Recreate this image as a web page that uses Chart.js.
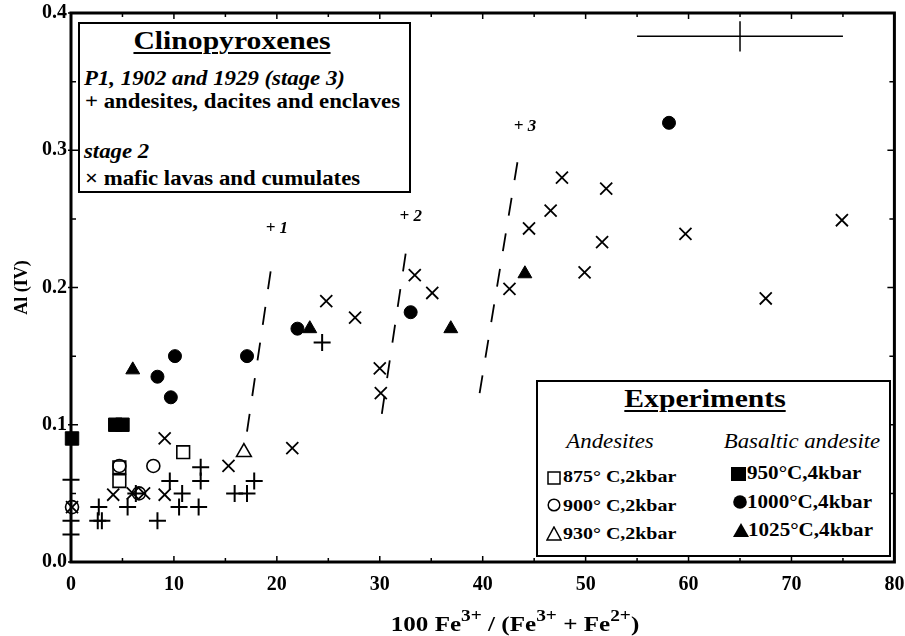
<!DOCTYPE html>
<html>
<head>
<meta charset="utf-8">
<script src="https://cdn.jsdelivr.net/npm/chart.js@4.4.1/dist/chart.umd.min.js"></script>
<style>
  body { margin: 0; background: #fff; }
  #wrap { position: relative; width: 905px; height: 636px; }
  .box { position: absolute; border: 2px solid #000; box-sizing: border-box; background: #fff; }
  .t { position: absolute; font-family: "Liberation Serif", serif; line-height: 1; white-space: nowrap; color: #000;
       transform: scaleX(1.14); transform-origin: left center; }
  .c { transform: translateX(-50%) scaleX(1.14); transform-origin: center center; }
  .b { font-weight: bold; }
  .i { font-style: italic; }
  .u { text-decoration: underline; text-decoration-thickness: 2px; text-underline-offset: 3px; }
  .sp { position: relative; top: -10px; font-size: 17px; }
  .m { position: absolute; }
</style>
</head>
<body>
<div id="wrap">
  <canvas id="chart" width="905" height="636"></canvas>

  <div class="box" style="left:78px; top:22px; width:333px; height:171px;"></div>
  <div class="t c b u" style="left:232px; top:28px; font-size:26px;">Clinopyroxenes</div>
  <div class="t b i" style="left:84px; top:68px; font-size:20px;">P1, 1902 and 1929 (stage 3)</div>
  <div class="t b" style="left:85px; top:91px; font-size:20px;">+ andesites, dacites and enclaves</div>
  <div class="t b i" style="left:84px; top:141px; font-size:20px;">stage 2</div>
  <div class="t b" style="left:85px; top:168px; font-size:20px;">× mafic lavas and cumulates</div>

  <div class="box" style="left:536px; top:380px; width:355px; height:177px;"></div>
  <div class="t c b u" style="left:705px; top:386px; font-size:26px;">Experiments</div>
  <div class="t c i" style="left:610px; top:431px; font-size:20px;">Andesites</div>
  <div class="t c i" style="left:802px; top:431px; font-size:20px;">Basaltic andesite</div>

  <svg class="m" style="left:547px; top:471px;" width="14" height="14"><rect x="1" y="1" width="12" height="12" fill="none" stroke="#000" stroke-width="1.5"/></svg>
  <svg class="m" style="left:547px; top:498px;" width="14" height="14"><circle cx="7" cy="7" r="5.8" fill="none" stroke="#000" stroke-width="1.5"/></svg>
  <svg class="m" style="left:546px; top:526px;" width="16" height="15"><polygon points="8,1 15,14 1,14" fill="none" stroke="#000" stroke-width="1.5"/></svg>
  <div class="t b" style="left:563px; top:468px; font-size:17.5px;">875° C,2kbar</div>
  <div class="t b" style="left:563px; top:497px; font-size:17.5px;">900° C,2kbar</div>
  <div class="t b" style="left:563px; top:525px; font-size:17.5px;">930° C,2kbar</div>

  <svg class="m" style="left:731px; top:467px;" width="15" height="14"><rect x="0" y="0" width="15" height="14" fill="#000"/></svg>
  <svg class="m" style="left:733px; top:495px;" width="14" height="14"><circle cx="7" cy="7" r="6.8" fill="#000"/></svg>
  <svg class="m" style="left:733px; top:523px;" width="16" height="14"><polygon points="8,0 16,14 0,14" fill="#000"/></svg>
  <div class="t b" style="left:747px; top:464px; font-size:18.5px;">950°C,4kbar</div>
  <div class="t b" style="left:747px; top:493px; font-size:18.5px;">1000°C,4kbar</div>
  <div class="t b" style="left:748px; top:521px; font-size:18.5px;">1025°C,4kbar</div>

  <div class="t c b" style="left:515px; top:613px; font-size:22px;">100 Fe<span class="sp">3+</span> / (Fe<span class="sp">3+</span> + Fe<span class="sp">2+</span>)</div>
</div>

<script>
// clinopyroxenes, stage 3 (plus)
var andesitesDacitesEnclaves = [
  [0, 0.06], [0, 0.03], [0, 0.02], [2.7, 0.04], [2.6, 0.03], [3.0, 0.03],
  [5.5, 0.04], [6.3, 0.05], [8.4, 0.03], [9.6, 0.059], [10.5, 0.04], [10.8, 0.05],
  [12.4, 0.04], [12.6, 0.069], [12.6, 0.059], [15.9, 0.05], [17.1, 0.05], [17.8, 0.059],
  [24.4, 0.16]
];
// stage 2 (cross)
var maficLavasCumulates = [
  [0.1, 0.04], [4.1, 0.049], [6.0, 0.05], [7.1, 0.05], [9.1, 0.049], [9.1, 0.09],
  [15.3, 0.07], [21.5, 0.083], [24.8, 0.19], [27.6, 0.178], [30.0, 0.141], [30.1, 0.123],
  [33.4, 0.209], [35.1, 0.196], [42.6, 0.199], [44.5, 0.243], [46.6, 0.256], [47.7, 0.28],
  [49.9, 0.211], [51.6, 0.233], [52.0, 0.272], [59.7, 0.239], [67.5, 0.192], [74.9, 0.249]
];
// experiments, andesites
var exp875 = [[4.7, 0.069], [4.7, 0.059], [10.9, 0.08]];
var exp900 = [[0.1, 0.04], [4.7, 0.07], [8.0, 0.07], [6.6, 0.05]];
var exp930 = [[16.8, 0.08]];
// experiments, basaltic andesite
var exp950 = [[0.1, 0.09], [4.3, 0.1], [5.0, 0.1]];
var exp1000 = [[8.4, 0.135], [9.7, 0.12], [10.1, 0.15], [17.1, 0.15], [22.0, 0.17], [33.0, 0.182], [58.1, 0.32]];
var exp1025 = [[6.0, 0.14], [23.2, 0.17], [36.9, 0.17], [44.1, 0.21]];

// dashed boundaries 1, 2, 3
var line1 = [[17.1, 0.095], [19.5, 0.217]];
var line2 = [[30.2, 0.108], [32.6, 0.229]];
var line3 = [[39.7, 0.123], [43.5, 0.297]];
var lineLabels = ["+ 1", "+ 2", "+ 3"];
var lineLabelX = [19.4, 32.4, 43.5];
var lineLabelY = [0.243, 0.252, 0.3175];

// error bars
var errH = [[55, 0.383], [75, 0.383]];
var errV = [[65, 0.372], [65, 0.394]];

var xTicksMax = 80;
var yTicksMax = 0.4;

function pts(a) {
  return a.map(function (p) { return { x: p[0], y: p[1] }; });
}

function marker(data, style, r, filled, bw) {
  return {
    data: pts(data),
    pointStyle: style,
    pointRadius: r,
    pointBorderWidth: bw || 1.6,
    pointBorderColor: "#000",
    pointBackgroundColor: filled ? "#000" : "rgba(0,0,0,0)",
    showLine: false,
    clip: false
  };
}

function segment(data, dash, w) {
  return {
    type: "line",
    data: pts(data),
    borderColor: "#000",
    borderWidth: w,
    borderDash: dash,
    pointRadius: 0,
    showLine: true,
    fill: false,
    clip: false
  };
}

var frame = {
  id: "frame",
  beforeDatasetsDraw: function (chart) {
    var ctx = chart.ctx, a = chart.chartArea;
    var xs = chart.scales.x, ys = chart.scales.y;
    ctx.save();
    ctx.strokeStyle = "#000";
    ctx.lineWidth = 3;
    ctx.strokeRect(a.left, a.top, a.right - a.left, a.bottom - a.top);
    ctx.lineWidth = 1.5;
    ctx.beginPath();
    xs.ticks.forEach(function (t) {
      var px = xs.getPixelForValue(t.value);
      var len = t.label !== "" ? 6 : 4;
      ctx.moveTo(px, a.bottom); ctx.lineTo(px, a.bottom - len);
      ctx.moveTo(px, a.top); ctx.lineTo(px, a.top + len);
    });
    ys.ticks.forEach(function (t) {
      var py = ys.getPixelForValue(t.value);
      var major = t.label !== "";
      var len = major ? 7 : 5;
      ctx.moveTo(a.left - (major ? 3 : 0), py); ctx.lineTo(a.left + len, py);
      ctx.moveTo(a.right, py); ctx.lineTo(a.right - len, py);
    });
    ctx.stroke();
    ctx.restore();
  },
  afterDatasetsDraw: function (chart) {
    var ctx = chart.ctx;
    var xs = chart.scales.x, ys = chart.scales.y;
    ctx.save();
    ctx.fillStyle = "#000";
    ctx.font = "italic bold 17px 'Liberation Serif'";
    ctx.textAlign = "left";
    ctx.textBaseline = "middle";
    lineLabels.forEach(function (s, i) {
      ctx.fillText(s, xs.getPixelForValue(lineLabelX[i]) - 5, ys.getPixelForValue(lineLabelY[i]));
    });
    ctx.restore();
  }
};

new Chart(document.getElementById("chart"), {
  type: "scatter",
  data: {
    datasets: [
      marker(andesitesDacitesEnclaves, "cross", 8.5, false, 2),
      marker(maficLavasCumulates, "crossRot", 8.5, false, 1.8),
      marker(exp875, "rect", 9, false, 1.6),
      marker(exp900, "circle", 6.5, false, 1.6),
      marker(exp930, "triangle", 8.5, false, 1.6),
      marker(exp950, "rect", 9.5, true, 1),
      marker(exp1000, "circle", 6.5, true, 1),
      marker(exp1025, "triangle", 8, true, 1),
      segment(line1, [18, 18], 1.8),
      segment(line2, [18, 18], 1.8),
      segment(line3, [18, 18], 1.8),
      segment(errH, [], 1.5),
      segment(errV, [], 1.5)
    ]
  },
  options: {
    responsive: false,
    animation: false,
    layout: { padding: { top: 13, right: 10, left: 0, bottom: 0 } },
    plugins: { legend: { display: false }, tooltip: { enabled: false } },
    scales: {
      x: {
        type: "linear", min: 0, max: xTicksMax,
        grid: { display: false, drawTicks: false }, border: { display: false },
        ticks: {
          stepSize: 5, autoSkip: false, maxRotation: 0, padding: 11, color: "#000",
          font: { family: "Liberation Serif", weight: "bold", size: 20 },
          callback: function (v) { return v % 10 === 0 ? String(v) : ""; }
        },
        afterFit: function (s) { s.height = 74; s.paddingLeft = 0; s.paddingRight = 0; }
      },
      y: {
        type: "linear", min: 0, max: yTicksMax,
        grid: { display: false, drawTicks: false }, border: { display: false },
        ticks: {
          stepSize: 0.05, autoSkip: false, padding: 4, color: "#000",
          font: { family: "Liberation Serif", weight: "bold", size: 20 },
          callback: function (v) {
            return Math.abs(v * 10 - Math.round(v * 10)) < 1e-6 ? v.toFixed(1) : "";
          }
        },
        title: {
          display: true, text: "Al (IV)", color: "#000", padding: { top: 12, bottom: 0 },
          font: { family: "Liberation Serif", weight: "bold", size: 18 }
        },
        afterFit: function (s) { s.width = 71; s.paddingTop = 0; s.paddingBottom = 0; }
      }
    }
  },
  plugins: [frame]
});
</script>
</body>
</html>
